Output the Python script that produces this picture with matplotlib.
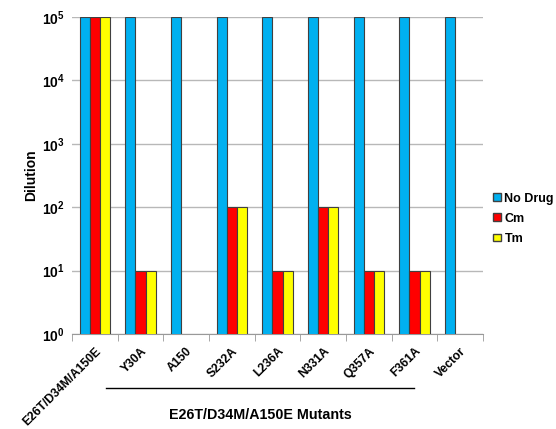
import numpy as np
import matplotlib
matplotlib.use("Agg")
import matplotlib.pyplot as pl
from matplotlib.patches import Patch
import matplotlib.transforms as mtrans

pl.rcParams['font.family'] = ['Liberation Sans', 'DejaVu Sans']
pl.rcParams['font.weight'] = 'bold'

# dilution reached per construct (nan = not tested)
labels = ["E26T/D34M/A150E", "Y30A", "A150", "S232A", "L236A",
          "N331A", "Q357A", "F361A", "Vector"]
no_drug = [1e5, 1e5, 1e5, 1e5, 1e5, 1e5, 1e5, 1e5, 1e5]
cm = [1e5, 10, np.nan, 100, 10, 100, 10, 10, np.nan]
tm = [1e5, 10, np.nan, 100, 10, 100, 10, 10, np.nan]
series = [("No Drug", no_drug, "#00B0F0"), ("Cm", cm, "#FF0000"), ("Tm", tm, "#FFFF00")]

fig = pl.figure(figsize=(5.56, 4.29), dpi=100)
ax = fig.add_axes([0.1295, 0.2214, 0.7392, 0.739])
ax.set_yscale('log')

x = np.arange(len(labels))
w = 0.22
for i, (name, vals, col) in enumerate(series):
    ax.bar(x + (i - 1) * w, vals, w, color=col, edgecolor="#404040", linewidth=0.8,
           label=name, zorder=3)

ax.set_ylim(1, 1e5)
ax.set_xlim(-0.5, len(labels) - 0.5)
ax.set_yticks([1, 10, 100, 1e3, 1e4, 1e5])
ax.yaxis.set_minor_locator(matplotlib.ticker.NullLocator())
ax.grid(axis='y', color="#B8B8B8", linewidth=1, zorder=0)
ax.tick_params(axis='y', length=0, labelsize=10, pad=5)
ax.set_xticks(x)
ax.set_xticklabels(labels, rotation=45, ha='right', rotation_mode='anchor', fontsize=8.7)
ax.set_xticks(np.arange(-0.5, len(labels)), minor=True)
ax.tick_params(axis='x', which='major', length=0, pad=8)
ax.tick_params(axis='x', which='minor', length=5, color="#999999", direction='out')
for s in ['top', 'right', 'left']:
    ax.spines[s].set_visible(False)
ax.spines['bottom'].set_color("#999999")
ax.set_ylabel("Dilution", fontsize=10, fontweight='bold', labelpad=3)

# bracket under the mutant group
tr = mtrans.blended_transform_factory(ax.transData, fig.transFigure)
ax.plot([0.24, 7.0], [0.0956, 0.0956], color="black", linewidth=1, transform=tr, clip_on=False)
ax.text(3.62, 0.033, "E26T/D34M/A150E Mutants", transform=tr, ha='center', va='center',
        fontsize=10.3, fontweight='bold')

handles = [Patch(facecolor=c, edgecolor="#404040", label=n) for n, v, c in series]
fig.legend(handles=handles, loc='center left', bbox_to_anchor=(0.887, 0.49),
           frameon=False, handlelength=0.6, handleheight=0.6, handletextpad=0.3,
           labelspacing=0.65, fontsize=9, borderpad=0, borderaxespad=0)

pl.savefig("out.png", dpi=100)
